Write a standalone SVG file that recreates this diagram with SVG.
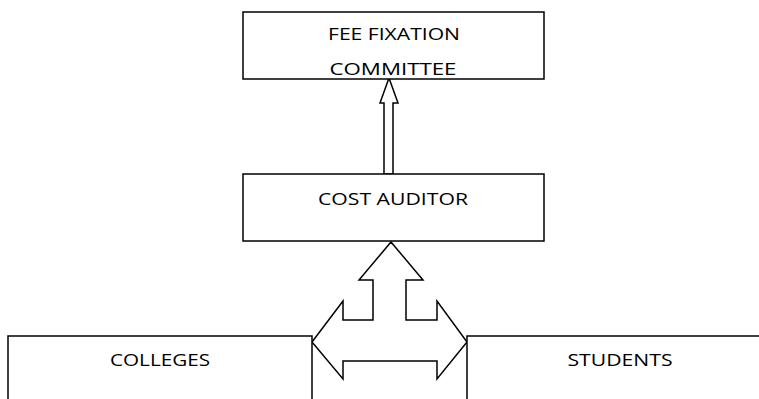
<svg xmlns="http://www.w3.org/2000/svg" width="759" height="399" viewBox="0 0 759 399">
<style>
.box{fill:#fff;stroke:#000;stroke-width:1.5}
.arr{fill:#fff;stroke:#000;stroke-width:1.5;stroke-linejoin:miter}
.t{font-family:"Open Sans","Liberation Sans",Arial,sans-serif;font-size:16.5px;fill:#000;text-anchor:middle}
</style>
<rect width="759" height="399" fill="#fff"/>
<g id="connectors">
<path class="arr" d="M389,78 L398,103 L393,103 L393,174 L384,174 L384,103 L380,103 Z"/>
<path class="arr" d="M391,242 L423,280 L406,280 L406,320 L437,320 L437,301 L467,342 L437,379 L437,361 L343,361 L343,379 L312,342 L343,301 L343,320 L373,320 L373,280 L359,280 Z"/>
</g>
<g id="fee-fixation-committee">
<rect class="box" x="243" y="12" width="301" height="67"/>
<text class="t" x="394" y="40" textLength="132" lengthAdjust="spacingAndGlyphs">FEE FIXATION</text>
<text class="t" x="393" y="75" textLength="127" lengthAdjust="spacingAndGlyphs">COMMITTEE</text>
</g>
<g id="cost-auditor">
<rect class="box" x="243" y="174" width="301" height="67"/>
<text class="t" x="393" y="205" textLength="150" lengthAdjust="spacingAndGlyphs">COST AUDITOR</text>
</g>
<g id="colleges">
<path class="box" d="M8,400 L8,336 L312,336 L312,400" fill="none"/>
<text class="t" x="160" y="366" textLength="100" lengthAdjust="spacingAndGlyphs">COLLEGES</text>
</g>
<g id="students">
<path class="box" d="M467,400 L467,336 L760,336" fill="none"/>
<text class="t" x="620" y="366" textLength="105" lengthAdjust="spacingAndGlyphs">STUDENTS</text>
</g>
</svg>
